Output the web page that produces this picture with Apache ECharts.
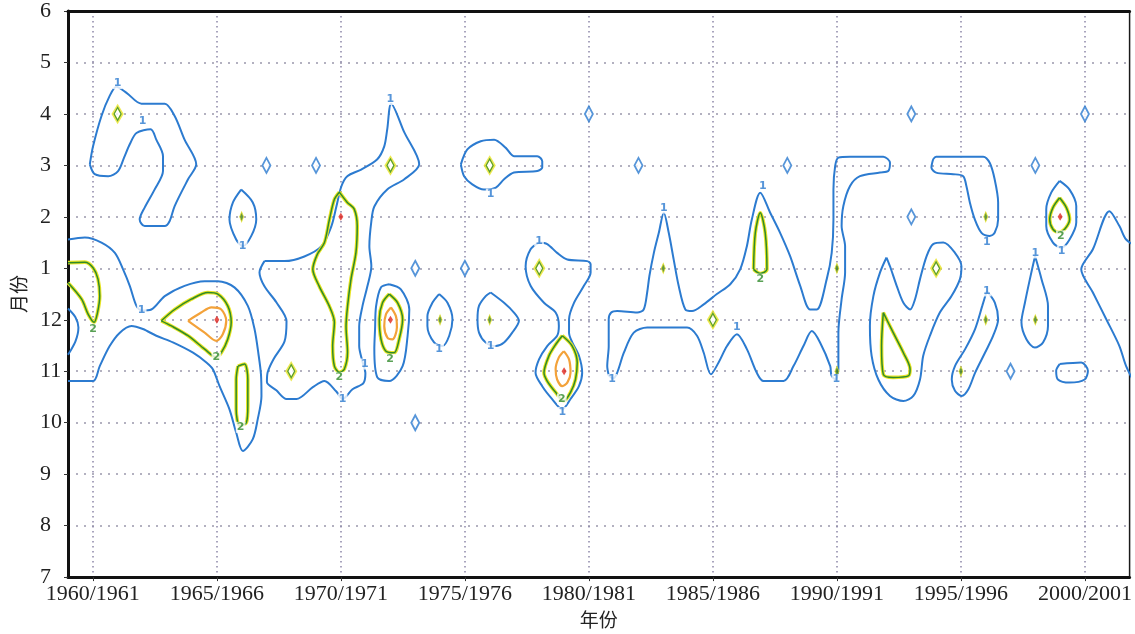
<!DOCTYPE html>
<html>
<head>
<meta charset="utf-8">
<script src="https://cdn.jsdelivr.net/npm/echarts@6/dist/echarts.min.js"></script>
<style>
html,body{margin:0;padding:0;background:#fff}
#main{width:1135px;height:634px}
</style>
</head>
<body>
<div id="main"></div>
<script>
// months on the y axis, bottom (index 0) to top
var monthLabels = ['7','8','9','10','11','12','1','2','3','4','5','6'];
var yearTicks = [1960,1965,1970,1975,1980,1985,1990,1995,2000];

// contour lines, points as [year, month index]
// level 1 (blue)
var hook61 = [[1959.88,8.02],[1960.01,8.37],[1960.35,8.96],[1960.68,9.35],[1960.95,9.53],[1961.36,9.41],[1961.96,9.20],[1962.90,9.20],[1963.30,8.96],[1963.70,8.50],[1964.17,8.02],[1963.84,7.73],[1963.30,7.21],[1963.10,6.92],[1962.90,6.82],[1962.09,6.82],[1961.89,6.95],[1962.09,7.18],[1962.49,7.53],[1962.83,7.89],[1962.83,8.18],[1962.56,8.50],[1962.33,8.70],[1961.76,8.63],[1961.49,8.41],[1961.26,8.15],[1961.02,7.89],[1960.62,7.79],[1960.08,7.83]];
var band62 = [[1959.0,6.56],[1959.68,6.60],[1960.35,6.50],[1960.89,6.30],[1961.22,5.98],[1961.49,5.66],[1961.76,5.27],[1961.97,5.18],[1962.36,5.20],[1962.90,5.46],[1963.70,5.66],[1964.51,5.75],[1965.04,5.75],[1965.71,5.63],[1966.25,5.27],[1966.52,4.82],[1966.68,4.33],[1966.78,3.94],[1966.80,3.52],[1966.65,3.07],[1966.45,2.68],[1966.05,2.45],[1965.78,2.81],[1965.51,3.26],[1965.11,3.71],[1964.84,4.04],[1964.58,4.17],[1964.04,4.36],[1963.23,4.56],[1962.56,4.69],[1962.02,4.82],[1961.56,4.88],[1961.09,4.75],[1960.68,4.49],[1960.28,4.10],[1960.01,3.81],[1959.0,3.81]];
var edge59 = [[1959.0,5.22],[1959.3,5.05],[1959.42,4.85],[1959.3,4.58],[1959.0,4.32]];
var band70 = [[1966.92,6.14],[1967.73,6.14],[1968.53,6.23],[1969.22,6.43],[1969.62,6.82],[1969.82,7.20],[1970.02,7.59],[1970.26,7.79],[1970.82,7.92],[1971.47,8.12],[1971.75,8.37],[1971.87,8.70],[1972.03,9.20],[1972.56,8.64],[1973.16,8.02],[1972.56,7.73],[1971.87,7.53],[1971.35,7.20],[1971.23,6.91],[1971.15,6.43],[1971.23,6.04],[1971.07,5.65],[1970.87,5.26],[1970.74,4.87],[1970.74,4.49],[1970.87,4.19],[1970.99,3.96],[1970.91,3.77],[1970.47,3.65],[1970.07,3.46],[1969.81,3.61],[1969.34,3.81],[1968.87,3.69],[1968.21,3.46],[1967.81,3.46],[1967.40,3.63],[1967.02,3.79],[1967.05,3.98],[1967.28,4.23],[1967.73,4.58],[1967.81,4.97],[1967.40,5.34],[1966.92,5.65],[1966.72,5.92]];
var loop66b = [[1965.98,7.53],[1966.45,7.28],[1966.59,6.95],[1966.39,6.63],[1966.05,6.43],[1965.78,6.56],[1965.51,6.95],[1965.65,7.28]];
var loop72b = [[1971.95,5.69],[1972.42,5.59],[1972.76,5.20],[1972.69,4.68],[1972.49,4.10],[1971.95,3.81],[1971.47,3.88],[1971.35,4.43],[1971.38,4.82],[1971.42,5.26],[1971.62,5.63]];
var keyhole76 = [[1974.84,8.02],[1975.10,8.31],[1975.64,8.47],[1976.18,8.50],[1976.65,8.34],[1976.98,8.18],[1977.92,8.18],[1978.12,8.08],[1978.12,7.96],[1977.92,7.89],[1976.98,7.86],[1976.58,7.73],[1976.25,7.57],[1975.77,7.53],[1975.30,7.63],[1974.97,7.79]];
var loop74 = [[1973.96,5.50],[1974.30,5.33],[1974.50,5.01],[1974.37,4.69],[1974.10,4.49],[1973.76,4.56],[1973.49,4.88],[1973.49,5.07],[1973.69,5.33]];
var loop76 = [[1976.04,5.53],[1976.58,5.33],[1976.98,5.14],[1977.18,4.98],[1976.91,4.75],[1976.58,4.56],[1976.25,4.49],[1975.84,4.56],[1975.57,4.75],[1975.51,5.01],[1975.57,5.27],[1975.84,5.46]];
var glass79 = [[1977.99,6.50],[1977.65,6.37],[1977.45,6.04],[1977.65,5.66],[1978.19,5.33],[1978.66,5.14],[1978.79,4.88],[1978.72,4.69],[1978.32,4.49],[1977.99,4.23],[1977.85,3.97],[1978.12,3.71],[1978.52,3.46],[1978.93,3.26],[1979.26,3.46],[1979.60,3.71],[1979.73,3.97],[1979.60,4.30],[1979.33,4.56],[1979.20,4.75],[1979.20,5.01],[1979.40,5.33],[1979.80,5.66],[1980.07,5.92],[1980.07,6.08],[1979.93,6.14],[1979.13,6.17],[1978.72,6.30],[1978.32,6.47]];
var band85 = [[1980.80,3.92],[1980.74,4.10],[1980.80,4.49],[1980.80,5.01],[1980.90,5.14],[1981.14,5.17],[1981.95,5.14],[1982.21,5.20],[1982.35,5.53],[1982.44,5.85],[1982.62,6.30],[1982.82,6.69],[1983.02,7.08],[1983.22,6.69],[1983.42,6.17],[1983.62,5.66],[1983.89,5.20],[1984.16,5.17],[1984.63,5.30],[1985.16,5.50],[1985.70,5.69],[1986.10,5.98],[1986.37,6.43],[1986.57,6.95],[1986.91,7.47],[1987.31,7.08],[1987.71,6.69],[1988.11,6.24],[1988.52,5.66],[1988.92,5.20],[1989.19,5.20],[1989.59,5.79],[1989.79,6.30],[1989.86,6.95],[1989.86,7.53],[1989.93,7.99],[1990.06,8.15],[1990.53,8.17],[1991.87,8.17],[1992.14,8.05],[1992.07,7.89],[1991.74,7.86],[1990.93,7.79],[1990.53,7.60],[1990.26,7.21],[1990.19,6.82],[1990.33,6.43],[1990.33,5.92],[1990.19,5.40],[1990.06,4.75],[1990.06,4.04],[1989.94,3.84],[1989.78,3.92],[1989.73,4.10],[1989.32,4.56],[1988.99,4.78],[1988.65,4.49],[1988.25,4.10],[1987.85,3.81],[1987.04,3.81],[1986.77,3.97],[1986.37,4.43],[1985.97,4.72],[1985.57,4.49],[1985.23,4.17],[1984.92,3.94],[1984.63,4.36],[1984.36,4.69],[1983.96,4.85],[1982.35,4.85],[1981.81,4.75],[1981.41,4.36],[1981.14,3.97],[1980.97,3.86]];
var nshape93 = [[1992.0,6.21],[1991.74,5.92],[1991.47,5.46],[1991.33,4.88],[1991.40,4.30],[1991.67,3.84],[1992.14,3.52],[1992.68,3.42],[1993.08,3.52],[1993.35,3.84],[1993.48,4.30],[1993.75,4.69],[1994.15,5.14],[1994.62,5.46],[1994.96,5.79],[1995.02,6.04],[1994.76,6.30],[1994.29,6.50],[1993.88,6.47],[1993.62,6.24],[1993.35,5.79],[1993.15,5.40],[1992.95,5.20],[1992.68,5.33],[1992.41,5.66],[1992.14,6.04]];
var hook95 = [[1993.88,8.12],[1994.0,8.17],[1995.90,8.17],[1996.16,8.05],[1996.36,7.73],[1996.50,7.28],[1996.50,6.95],[1996.36,6.69],[1996.16,6.63],[1995.83,6.69],[1995.56,6.95],[1995.36,7.28],[1995.22,7.60],[1995.09,7.79],[1994.69,7.83],[1994.0,7.86],[1993.81,7.96]];
var loop96 = [[1996.04,5.56],[1996.37,5.33],[1996.50,5.01],[1996.30,4.69],[1995.97,4.36],[1995.57,3.97],[1995.30,3.65],[1995.03,3.52],[1994.76,3.62],[1994.63,3.84],[1994.76,4.10],[1995.17,4.43],[1995.57,4.82],[1995.86,5.27]];
var loop98 = [[1997.99,6.24],[1998.25,5.79],[1998.51,5.27],[1998.51,4.88],[1998.31,4.56],[1997.98,4.46],[1997.64,4.62],[1997.44,4.95],[1997.58,5.33],[1997.78,5.79]];
var loop99 = [[1998.98,7.70],[1999.38,7.53],[1999.65,7.21],[1999.65,6.89],[1999.38,6.56],[1999.05,6.40],[1998.71,6.50],[1998.44,6.82],[1998.44,7.15],[1998.64,7.47]];
var oval00 = [[1998.98,4.14],[1999.85,4.17],[2000.12,4.01],[1999.99,3.84],[1999.38,3.78],[1998.91,3.84],[1998.84,4.01]];
var edge01 = [[2002.13,6.41],[2001.66,6.56],[2001.39,6.82],[2000.99,7.11],[2000.32,6.37],[1999.85,5.98],[2000.32,5.53],[2000.86,5.01],[2001.39,4.49],[2001.66,4.10],[2002.13,3.65]];

// level 2 (green / yellow)
var crescent60 = [[1959.0,6.11],[1959.68,6.12],[1960.01,6.01],[1960.21,5.79],[1960.28,5.46],[1960.19,5.14],[1960.05,4.95],[1959.81,5.11],[1959.55,5.40],[1959.0,5.72]];
var blob65g = [[1962.76,4.98],[1963.30,5.20],[1963.97,5.40],[1964.64,5.53],[1965.04,5.50],[1965.44,5.27],[1965.58,4.95],[1965.44,4.62],[1965.18,4.36],[1964.98,4.27],[1964.51,4.43],[1963.84,4.69],[1963.17,4.88]];
var oval66g = [[1965.85,4.10],[1966.12,4.14],[1966.25,3.84],[1966.25,3.33],[1966.19,3.00],[1965.92,2.94],[1965.78,3.26],[1965.78,3.84]];
var long70 = [[1969.94,7.48],[1970.26,7.28],[1970.54,7.15],[1970.66,6.82],[1970.61,6.31],[1970.41,5.79],[1970.27,5.26],[1970.21,4.87],[1970.27,4.37],[1970.14,4.04],[1969.94,3.98],[1969.74,4.10],[1969.67,4.49],[1969.74,4.95],[1969.54,5.26],[1969.13,5.65],[1968.87,5.98],[1969.05,6.27],[1969.34,6.50],[1969.54,6.95],[1969.74,7.34]];
var oval72g = [[1971.95,5.50],[1972.29,5.33],[1972.49,5.01],[1972.35,4.62],[1972.15,4.36],[1971.82,4.39],[1971.62,4.62],[1971.55,5.01],[1971.68,5.33]];
var drop79g = [[1978.93,4.69],[1979.33,4.49],[1979.53,4.17],[1979.46,3.84],[1979.26,3.59],[1978.99,3.42],[1978.66,3.59],[1978.32,3.81],[1978.19,3.97],[1978.39,4.30],[1978.66,4.52]];
var spike87 = [[1986.64,5.98],[1986.71,6.69],[1986.91,7.08],[1987.11,6.69],[1987.18,5.98],[1986.91,5.90]];
var tri92 = [[1991.87,5.14],[1992.27,4.75],[1992.68,4.36],[1992.95,4.04],[1992.88,3.91],[1992.27,3.88],[1991.87,3.94],[1991.80,4.49]];
var oval99g = [[1998.98,7.37],[1999.25,7.18],[1999.38,6.95],[1999.18,6.76],[1998.95,6.70],[1998.71,6.76],[1998.58,6.95],[1998.71,7.18]];

// level 3 (orange)
var blob65o = [[1963.84,4.98],[1964.37,5.14],[1964.78,5.24],[1965.18,5.20],[1965.38,4.98],[1965.24,4.72],[1964.98,4.59],[1964.51,4.75]];
var oval72o = [[1972.02,5.24],[1972.22,5.07],[1972.26,4.85],[1972.08,4.62],[1971.88,4.65],[1971.75,4.88],[1971.82,5.11]];
var drop79o = [[1978.99,4.39],[1979.20,4.23],[1979.26,3.97],[1979.13,3.78],[1978.93,3.71],[1978.72,3.84],[1978.66,4.04],[1978.79,4.27]];

// single-cell peaks
var peakBlue = [[1967,8],[1969,8],[1973,6],[1973,3],[1975,6],[1980,9],[1982,8],[1988,8],[1993,9],[1993,7],[1997,4],[1998,8],[2000,9]];
var peakGreen = [[1961,9],[1972,8],[1968,4],[1985,5],[1994,6],[1976,8],[1978,6]];
var peakDot = [[1966,7],[1974,5],[1976,5],[1983,6],[1990,6],[1995,4],[1996,5],[1996,7],[1998,5],[1990,4]];
var peakRed = [[1965,5],[1972,5],[1979,4],[1999,7],[1970,7]];

// contour value labels
var labels1 = [[1961.0,9.59],[1962.01,8.86],[1961.97,5.19],[1966.04,6.43],[1972.0,9.28],[1970.97,4.14],[1970.07,3.46],[1976.04,7.44],[1973.96,4.43],[1976.04,4.49],[1977.99,6.53],[1978.93,3.20],[1980.94,3.84],[1983.02,7.17],[1987.01,7.60],[1985.97,4.85],[1989.98,3.84],[1996.04,6.5],[1999.06,6.34],[1996.04,5.56],[1998.0,6.3]];
var labels2 = [[1960.01,4.82],[1964.98,4.27],[1965.96,2.91],[1969.94,3.88],[1971.99,4.23],[1978.91,3.46],[1986.91,5.79],[1999.03,6.63]];

var level1Closed = [hook61, band70, loop66b, loop72b, keyhole76, loop74, loop76, glass79, band85, nshape93, hook95, loop96, loop98, loop99, oval00];
var level1Open = [band62, edge59, edge01];
var level2Closed = [blob65g, oval66g, long70, oval72g, drop79g, spike87, tri92, oval99g];
var level2Open = [crescent60];
var level3Closed = [blob65o, oval72o, drop79o];

var BLUE = '#2c7bd0', GREEN = '#2f8a2a', YELLOW = '#e8e424', ORANGE = '#f3a23a', RED = '#e0261e';

function ring(a){ return a.concat([a[0]]); }

function lineSeries(pts, color, width, z){
	return {
		type:'line', data:pts, showSymbol:false, smooth:0.3, silent:true,
		lineStyle:{color:color, width:width}, z:z, animation:false
	};
}

var series = [];
level1Closed.forEach(function(c){ series.push(lineSeries(ring(c), BLUE, 2, 3)); });
level1Open.forEach(function(c){ series.push(lineSeries(c, BLUE, 2, 3)); });
level2Closed.forEach(function(c){
	series.push(lineSeries(ring(c), YELLOW, 3.6, 4));
	series.push(lineSeries(ring(c), GREEN, 1.5, 5));
});
level2Open.forEach(function(c){
	series.push(lineSeries(c, YELLOW, 3.6, 4));
	series.push(lineSeries(c, GREEN, 1.5, 5));
});
level3Closed.forEach(function(c){ series.push(lineSeries(ring(c), ORANGE, 2.2, 6)); });

series.push({
	type:'scatter', data:peakBlue, symbol:'diamond', symbolSize:[8,15], silent:true, z:3,
	itemStyle:{color:'#fff', borderColor:BLUE, borderWidth:2}
});
series.push({
	type:'scatter', data:peakGreen, symbol:'diamond', symbolSize:[9,15], silent:true, z:4,
	itemStyle:{color:'#fff', borderColor:YELLOW, borderWidth:3}
});
series.push({
	type:'scatter', data:peakGreen, symbol:'diamond', symbolSize:[7,13], silent:true, z:5,
	itemStyle:{color:'rgba(0,0,0,0)', borderColor:GREEN, borderWidth:1.3}
});
series.push({
	type:'scatter', data:peakDot, symbol:'diamond', symbolSize:[4,10], silent:true, z:5,
	itemStyle:{color:'#3d7d18', borderColor:YELLOW, borderWidth:1}
});
series.push({
	type:'scatter', data:peakRed, symbol:'diamond', symbolSize:[5,8], silent:true, z:7,
	itemStyle:{color:RED}
});
series.push({
	type:'scatter', data:labels1, symbolSize:0, silent:true, z:8,
	label:{show:true, position:'inside', formatter:'1', color:BLUE, fontSize:11, fontWeight:'bold',
		fontFamily:'DejaVu Sans', backgroundColor:'#fff', padding:[0,1]}
});
series.push({
	type:'scatter', data:labels2, symbolSize:0, silent:true, z:8,
	label:{show:true, position:'inside', formatter:'2', color:GREEN, fontSize:11, fontWeight:'bold',
		fontFamily:'DejaVu Sans', backgroundColor:'#fff', padding:[0,1]}
});

var chart = echarts.init(document.getElementById('main'));
chart.setOption({
	animation:false,
	backgroundColor:'#fff',
	grid:{left:68, right:3, top:11, bottom:56, show:true, borderColor:'#1a1a1a', borderWidth:1.5},
	xAxis:[{
		type:'value', min:1959, max:2001.8,
		name:'年份', nameLocation:'middle', nameGap:32,
		nameTextStyle:{fontFamily:'Noto Sans CJK SC', fontSize:19, color:'#222'},
		axisLine:{show:true, lineStyle:{color:'#111', width:3}},
		axisTick:{show:true, customValues:yearTicks, length:4, lineStyle:{color:'#333'}},
		axisLabel:{customValues:yearTicks, margin:6, fontFamily:'Liberation Serif', fontSize:22, color:'#222',
			formatter:function(v){ return v + '/' + (v + 1); }},
		splitLine:{show:true, lineStyle:{color:'#8c86a8', width:1.5, type:[1.5,3.5]}}
	},{
		type:'value', min:1959, max:2001.8, position:'top', z:3,
		axisLine:{show:true, onZero:false, lineStyle:{color:'#111', width:3}},
		axisTick:{show:false}, axisLabel:{show:false}, splitLine:{show:false}
	}],
	yAxis:{
		type:'value', min:0, max:11, interval:1,
		name:'月份', nameLocation:'middle', nameGap:40, nameRotate:90,
		nameTextStyle:{fontFamily:'Noto Sans CJK SC', fontSize:19, color:'#222'},
		axisLine:{show:true, lineStyle:{color:'#111', width:3}},
		axisTick:{show:true, length:4, lineStyle:{color:'#333'}},
		axisLabel:{margin:28, align:'left', fontFamily:'Liberation Serif', fontSize:22, color:'#222',
			formatter:function(v){ return monthLabels[v]; }},
		splitLine:{show:true, lineStyle:{color:'#9a98ac', width:1.5, type:[2,6]}}
	},
	series:series
});
</script>
</body>
</html>
